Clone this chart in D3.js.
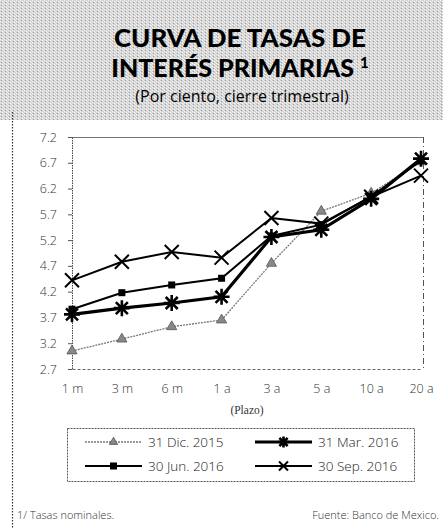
<!DOCTYPE html>
<html>
<head>
<meta charset="utf-8">
<script src="https://cdn.jsdelivr.net/npm/d3@7"></script>
<style>
  html, body { margin: 0; padding: 0; background: #fff; }
  svg { display: block; }
</style>
</head>
<body>
<div id="chart"></div>
<script>
// Plazos (x categories)
const plazos = ["1 m", "3 m", "6 m", "1 a", "3 a", "5 a", "10 a", "20 a"];
// Tick labels for the rate axis
const yTicks = [2.7, 3.2, 3.7, 4.2, 4.7, 5.2, 5.7, 6.2, 6.7, 7.2];

// Curves (per cent) at each quarter close
const dic2015 = [3.05, 3.28, 3.52, 3.65, 4.75, 5.76, 6.11, 6.72];
const mar2016 = [3.76, 3.88, 3.98, 4.10, 5.26, 5.40, 6.00, 6.78];
const jun2016 = [3.86, 4.18, 4.33, 4.46, 5.28, 5.50, 6.05, 6.74];
const sep2016 = [4.42, 4.78, 4.97, 4.86, 5.63, 5.52, 6.04, 6.45];

const seriesNames = ["31 Dic. 2015", "31 Mar. 2016", "30 Jun. 2016", "30 Sep. 2016"];

const W = 443, H = 529;
const svg = d3.select("#chart").append("svg").attr("width", W).attr("height", H);

// Halftone header background
const defs = svg.append("defs");
const pat = defs.append("pattern").attr("id", "halftone")
  .attr("width", 4).attr("height", 3).attr("patternUnits", "userSpaceOnUse");
pat.append("rect").attr("width", 4).attr("height", 3).attr("fill", "#d4d4d4");
pat.append("rect").attr("x", 0).attr("y", 0).attr("width", 1).attr("height", 1).attr("fill", "#f4f4f4");
pat.append("rect").attr("x", 2).attr("y", 1).attr("width", 1).attr("height", 1).attr("fill", "#ffffff");
pat.append("rect").attr("x", 1).attr("y", 2).attr("width", 1).attr("height", 1).attr("fill", "#a0a0a0");
pat.append("rect").attr("x", 3).attr("y", 2).attr("width", 1).attr("height", 1).attr("fill", "#e8e8e8");

svg.append("rect").attr("x", 0).attr("y", 0).attr("width", W).attr("height", 120)
  .attr("fill", "url(#halftone)");

const titleFont = "Lato, 'Open Sans', sans-serif";
svg.append("text").attr("x", 240).attr("y", 47).attr("text-anchor", "middle")
  .attr("font-family", titleFont).attr("font-weight", 900).attr("font-size", 25)
  .attr("textLength", 252).attr("lengthAdjust", "spacingAndGlyphs")
  .attr("fill", "#000").text("CURVA DE TASAS DE");
const t2 = svg.append("text").attr("x", 240).attr("y", 77).attr("text-anchor", "middle")
  .attr("font-family", titleFont).attr("font-weight", 900).attr("font-size", 25)
  .attr("fill", "#000");
t2.append("tspan").text("INTERÉS PRIMARIAS ");
t2.append("tspan").attr("font-size", 15).attr("dy", -9).text("1");
svg.append("text").attr("x", 242).attr("y", 102).attr("text-anchor", "middle")
  .attr("font-family", "'Open Sans', sans-serif").attr("font-size", 16)
  .attr("fill", "#000").text("(Por ciento, cierre trimestral)");

// Left frame line of the panel
svg.append("line").attr("x1", 12.5).attr("x2", 12.5).attr("y1", 112).attr("y2", H)
  .attr("stroke", "#333").attr("stroke-width", 1.2).attr("stroke-dasharray", "1.5,1.5");

// Plot area
const plotLeft = 72, plotRight = 421, plotTop = 137, plotBottom = 369;
const x = d3.scalePoint().domain(plazos).range([plotLeft, plotRight]);
const y = d3.scaleLinear().domain([2.7, 7.2]).range([plotBottom, plotTop]);

const axisFont = "'Open Sans', 'Lato', sans-serif";

// Top border (solid) and right border (dash-dot)
svg.append("line").attr("x1", plotLeft).attr("x2", plotRight + 2).attr("y1", plotTop + 0.5).attr("y2", plotTop + 0.5)
  .attr("stroke", "#777").attr("stroke-width", 1);
svg.append("line").attr("x1", plotRight + 2.5).attr("x2", plotRight + 2.5).attr("y1", plotTop).attr("y2", plotBottom)
  .attr("stroke", "#555").attr("stroke-width", 1).attr("stroke-dasharray", "6,3,1,3");

// Y axis
const yAxis = svg.append("g").attr("transform", `translate(${plotLeft},0)`)
  .call(d3.axisLeft(y).tickValues(yTicks).tickSize(4).tickFormat(d3.format(".1f")));
yAxis.select(".domain").attr("stroke", "#444").attr("stroke-dasharray", "1.5,1");
yAxis.selectAll(".tick line").attr("stroke", "#555");
yAxis.selectAll("text").attr("font-family", axisFont).attr("font-size", 12.5)
  .attr("font-weight", 300).attr("fill", "#333").attr("x", -15);

// X axis
const xAxis = svg.append("g").attr("transform", `translate(0,${plotBottom})`)
  .call(d3.axisBottom(x).tickSize(0).tickPadding(15));
xAxis.select(".domain").attr("stroke", "#666").attr("stroke-dasharray", "3,2");
xAxis.selectAll("text").attr("font-family", axisFont).attr("font-size", 12.5)
  .attr("font-weight", 300).attr("fill", "#333");

svg.append("text").attr("x", 247).attr("y", 414).attr("text-anchor", "middle")
  .attr("font-family", "'Liberation Serif', serif").attr("font-size", 11.5).attr("fill", "#333").text("(Plazo)");

// Marker drawers
function triangle(g, s) {
  g.append("path").attr("d", d3.symbol(d3.symbolTriangle, s.size)())
    .attr("fill", "#888").attr("stroke", "#555").attr("stroke-width", 0.8);
}
function asterisk(g, s) {
  const r = s.r;
  const p = `M${-r},0L${r},0M0,${-r}L0,${r}M${-r*0.75},${-r*0.75}L${r*0.75},${r*0.75}M${-r*0.75},${r*0.75}L${r*0.75},${-r*0.75}`;
  g.append("path").attr("d", p).attr("stroke", "#000").attr("stroke-width", 2.6).attr("fill", "none");
}
function square(g, s) {
  g.append("rect").attr("x", -s.r).attr("y", -s.r).attr("width", 2 * s.r).attr("height", 2 * s.r)
    .attr("fill", "#000");
}
function cross(g, s) {
  const r = s.r;
  g.append("path").attr("d", `M${-r},${-r}L${r},${r}M${-r},${r}L${r},${-r}`)
    .attr("stroke", "#000").attr("stroke-width", 2).attr("fill", "none");
}

const series = [
  { name: seriesNames[0], values: dic2015, stroke: "#777", width: 1.3, dash: "2,1", marker: triangle, size: 45 },
  { name: seriesNames[1], values: mar2016, stroke: "#000", width: 3.2, dash: null, marker: asterisk, r: 8 },
  { name: seriesNames[2], values: jun2016, stroke: "#000", width: 2, dash: null, marker: square, r: 3.5 },
  { name: seriesNames[3], values: sep2016, stroke: "#000", width: 2, dash: null, marker: cross, r: 7 }
];

const line = d3.line().x((d, i) => x(plazos[i])).y(d => y(d));

// Draw in order so the later quarters sit on top
const drawOrder = [0, 2, 1, 3];
drawOrder.forEach(k => {
  const s = series[k];
  svg.append("path").datum(s.values).attr("d", line)
    .attr("fill", "none").attr("stroke", s.stroke).attr("stroke-width", s.width)
    .attr("stroke-dasharray", s.dash);
  s.values.forEach((v, i) => {
    const g = svg.append("g").attr("transform", `translate(${x(plazos[i])},${y(v)})`);
    s.marker(g, s);
  });
});

// Legend
const legFont = "'Open Sans', 'Lato', sans-serif";
svg.append("rect").attr("x", 67.5).attr("y", 428.5).attr("width", 347).attr("height", 53)
  .attr("fill", "none").attr("stroke", "#555").attr("stroke-width", 1).attr("stroke-dasharray", "2,1");
const legPos = [
  { lx: 85, ly: 442 }, { lx: 255, ly: 442 },
  { lx: 85, ly: 466 }, { lx: 255, ly: 466 }
];
const legendMarkerScale = [
  { size: 30 }, { r: 5.5 }, { r: 3.5 }, { r: 4.5 }
];
series.forEach((s, k) => {
  const p = legPos[k];
  svg.append("line").attr("x1", p.lx).attr("x2", p.lx + 57).attr("y1", p.ly).attr("y2", p.ly)
    .attr("stroke", s.stroke).attr("stroke-width", s.width).attr("stroke-dasharray", s.dash);
  const g = svg.append("g").attr("transform", `translate(${p.lx + 28.5},${p.ly})`);
  s.marker(g, Object.assign({}, s, legendMarkerScale[k]));
  svg.append("text").attr("x", p.lx + 63).attr("y", p.ly + 5)
    .attr("font-family", legFont).attr("font-size", 13.5).attr("font-weight", 300)
    .attr("fill", "#222").text(s.name);
});

// Footnotes
svg.append("text").attr("x", 17).attr("y", 519).attr("font-family", legFont)
  .attr("font-size", 11).attr("font-weight", 300).attr("fill", "#333").text("1/ Tasas nominales.");
svg.append("text").attr("x", 439).attr("y", 519).attr("text-anchor", "end").attr("font-family", legFont)
  .attr("font-size", 11).attr("font-weight", 300).attr("fill", "#333").text("Fuente:  Banco de Mexico.");
</script>
</body>
</html>
